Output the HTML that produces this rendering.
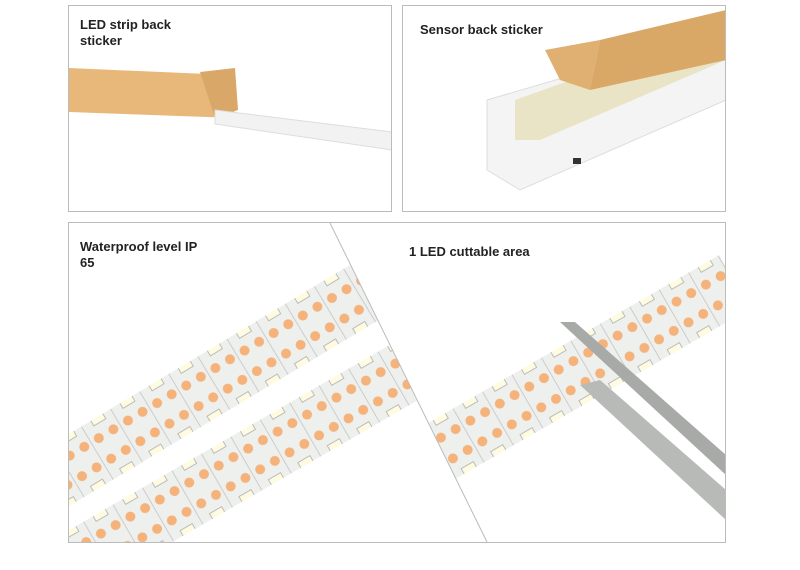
<!DOCTYPE html>
<html><head><style>
body{margin:0;background:#fff;width:800px;height:565px;overflow:hidden;font-family:"Liberation Sans",sans-serif}
</style></head><body>
<svg width="800" height="565" viewBox="0 0 800 565" xmlns="http://www.w3.org/2000/svg">
<defs>
<clipPath id="c1"><rect x="69" y="6" width="322" height="205"/></clipPath>
<clipPath id="c2"><rect x="403" y="6" width="322" height="205"/></clipPath>
<clipPath id="cl"><polygon points="69,223 330,223 487,542 69,542"/></clipPath>
<clipPath id="cr"><polygon points="330,223 725,223 725,542 487,542"/></clipPath>
<pattern id="dots" width="34" height="62" patternUnits="userSpaceOnUse">
<rect width="34" height="62" fill="#eef0ee"/>
<circle cx="8" cy="12" r="5" fill="#f5b27a"/><circle cx="25" cy="12" r="5" fill="#f5b27a"/>
<circle cx="8" cy="50" r="5" fill="#f5b27a"/><circle cx="25" cy="50" r="5" fill="#f5b27a"/>
<rect x="10" y="25" width="14" height="12" fill="#fffbe0" stroke="#bbb"/>
<line x1="33" y1="0" x2="33" y2="62" stroke="#ccc"/>
</pattern>
</defs>
<rect x="68.5" y="5.5" width="323" height="206" fill="#fff" stroke="#bbb"/>
<rect x="402.5" y="5.5" width="323" height="206" fill="#fff" stroke="#bbb"/>
<rect x="68.5" y="222.5" width="657" height="320" fill="#fff" stroke="#bbb"/>
<g clip-path="url(#c1)">
<polygon points="69,68 230,75 235,118 69,112" fill="#e8b87a"/>
<polygon points="200,72 235,68 238,110 215,118" fill="#d9a767"/>
<polygon points="215,110 392,132 392,150 215,124" fill="#f2f2f2" stroke="#ddd"/>
</g>
<g clip-path="url(#c2)">
<polygon points="487,100 726,30 726,100 520,190 487,170" fill="#f4f4f4" stroke="#ddd"/>
<polygon points="515,100 726,25 726,60 540,140 515,140" fill="#e9e4c6"/>
<polygon points="545,50 600,40 590,90 560,80" fill="#dfb071"/>
<polygon points="600,40 726,10 726,60 590,90" fill="#d9a866"/>
<rect x="573" y="158" width="8" height="6" fill="#333"/>
</g>
<g clip-path="url(#cl)">
<g transform="translate(69,470) rotate(-31)"><rect x="-40" y="-31" width="440" height="62" fill="url(#dots)"/></g>
<g transform="translate(100,548) rotate(-30)"><rect x="-40" y="-31" width="440" height="62" fill="url(#dots)"/></g>
</g>
<g clip-path="url(#cr)">
<g transform="translate(440,452) rotate(-30)"><rect x="-40" y="-31" width="380" height="62" fill="url(#dots)"/></g>
<polygon points="560,322 575,322 726,455 726,475" fill="#a8aaa8"/>
<polygon points="580,385 600,380 726,490 726,520" fill="#b8bab8"/>
</g>
<line x1="330" y1="223" x2="487" y2="542" stroke="#bbb"/>
<g font-weight="bold" font-size="13" fill="#222">
<text x="80" y="29">LED strip back</text><text x="80" y="45">sticker</text>
<text x="420" y="34">Sensor back sticker</text>
<text x="80" y="251">Waterproof level IP</text><text x="80" y="267">65</text>
<text x="409" y="256">1 LED cuttable area</text>
</g>
</svg>
</body></html>
